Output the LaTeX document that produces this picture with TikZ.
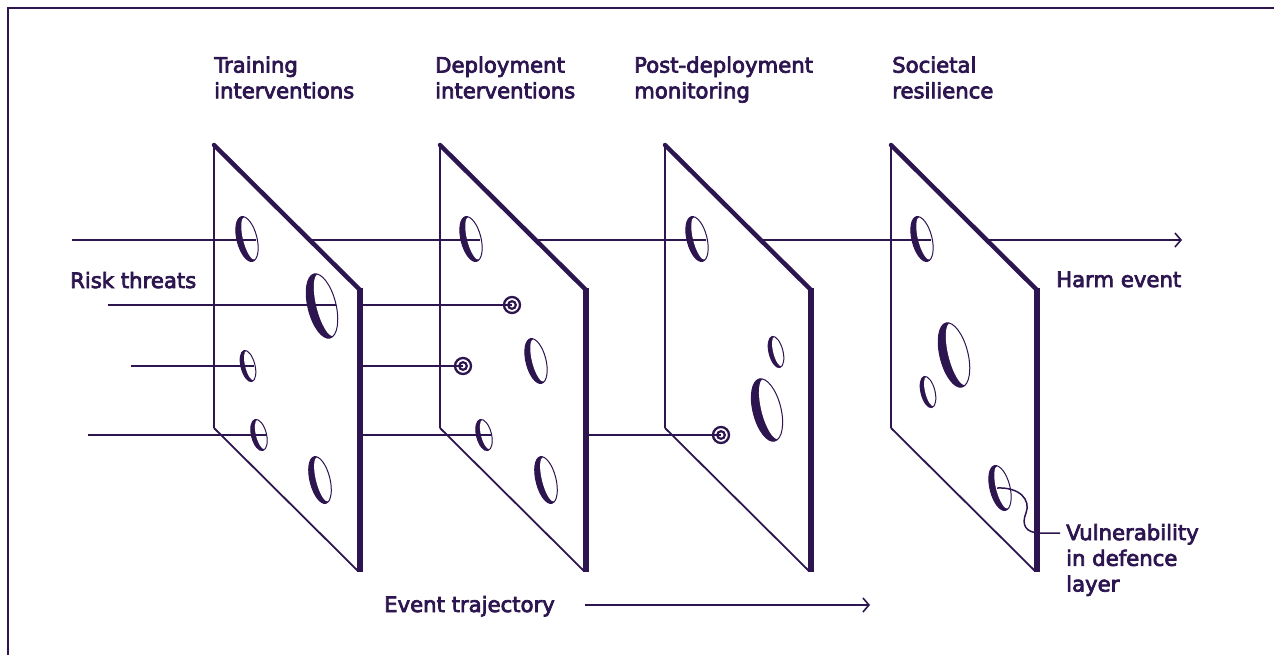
\documentclass[tikz,border=0pt]{standalone}
\usepackage{fontspec}
\setmainfont{DejaVu Sans}
\newfontfamily\lblfont{DejaVu Sans}[FakeBold=3.5]
\usetikzlibrary{arrows.meta}
\definecolor{ink}{HTML}{2D1650}
\newcommand\plateat[1]{%
  \begin{scope}[shift={(#1,0)}]
    \fill[white] (0,145) -- (146,290) -- (146,572) -- (0,428) -- cycle;
    \draw[ink,line width=2] (0,428) -- (0,145);
    \draw[ink,line width=4.5,line cap=round] (0,145) -- (146,290);
    \draw[ink,line width=5.5] (146,288) -- (146,572);
    \draw[ink,line width=1.8] (0,428) -- (144,571);
  \end{scope}}
\newcommand\holeat[4]{% x y rx ry
  \begin{scope}[shift={(#1,#2)},rotate=14]
    \pgfmathsetmacro\hs{0.3*#3}
    \fill[ink] (0,0) ellipse ({#3} and {#4});
    \fill[white] (\hs,0) ellipse ({#3-\hs} and {#4-0.8});
    \draw[ink,line width=1] (0,0) ellipse ({#3} and {#4});
  \end{scope}}
\newcommand\ringat[2]{%
  \draw[ink,line width=2.3] (#1,#2) circle (8);
  \draw[ink,line width=2.2] (#1,#2) circle (3.8);}
\begin{document}
\begin{tikzpicture}[x=1pt,y=-1pt,
  lbl/.style={font=\lblfont\fontsize{21.2}{25.7}\selectfont, text=ink, inner sep=0pt, anchor=base west, align=left},
  ray/.style={ink, line width=2},
  arr/.style={ray, -{Straight Barb[length=6pt,width=14pt,line width=1.6pt]}},
  lead/.style={ink, line width=1.5}]
\useasboundingbox (0,0) rectangle (1274,654);
% frame
\draw[ink,line width=2] (8,660) -- (8,8) -- (1280,8);

% titles (base anchor = baseline of last line)
\node[lbl] (t1) at (214,98.3) {Training\\interventions};
\node[lbl] (t2) at (435,98.3) {Deployment\\interventions};
\node[lbl] (t3) at (634,98.3) {Post-deployment\\monitoring};
\node[lbl] (t4) at (892,98.3) {Societal\\resilience};
\node[lbl] (risk) at (70,288) {Risk threats};
\node[lbl] (harm) at (1056,287) {Harm event};
\node[lbl] (vul) at (1066,591.5) {Vulnerability\\in defence\\layer};
\node[lbl] (traj) at (384,612) {Event trajectory};

% ray start points
\coordinate (a0) at (72,240);
\coordinate (b0) at (108,305);
\coordinate (c0) at (131,366);
\coordinate (d0) at (88,435);

% plate 1
\plateat{214}
\holeat{247}{239}{10}{23}
\holeat{322}{306}{14}{33}
\holeat{248}{366}{7}{16}
\holeat{259}{435}{7.5}{16}
\holeat{320}{480}{10}{24}
\coordinate (a1) at (256,240);
\coordinate (b1) at (336,305);
\coordinate (c1) at (254,366);
\coordinate (d1) at (266,435);
\draw[ray] (a0) -- (a1);
\draw[ray] (b0) -- (b1);
\draw[ray] (c0) -- (c1);
\draw[ray] (d0) -- (d1);
\coordinate (a1x) at (309,240);
\coordinate (b1x) at (360,305);
\coordinate (c1x) at (360,366);
\coordinate (d1x) at (360,435);

% plate 2
\plateat{440}
\holeat{471}{239}{10}{23}
\ringat{512}{305}
\ringat{463}{366}
\holeat{536}{361}{10}{23}
\holeat{484}{435}{7.5}{16}
\holeat{546}{480}{10}{24}
\coordinate (a2) at (480,240);
\coordinate (b2) at (512,305);
\coordinate (c2) at (463,366);
\coordinate (d2) at (491,435);
\draw[ray] (a1x) -- (a2);
\draw[ray] (b1x) -- (b2);
\draw[ray] (c1x) -- (c2);
\draw[ray] (d1x) -- (d2);
\coordinate (a2x) at (535,240);
\coordinate (d2x) at (586,435);

% plate 3
\plateat{665}
\holeat{697}{239}{10}{23}
\holeat{776}{352}{7}{16}
\holeat{767}{410}{14}{32}
\ringat{721}{435}
\coordinate (a3) at (706,240);
\coordinate (d3) at (721,435);
\draw[ray] (a2x) -- (a3);
\draw[ray] (d2x) -- (d3);
\coordinate (a3x) at (760,240);

% plate 4
\plateat{891}
\holeat{922}{239}{10}{23}
\holeat{954}{355}{14}{33}
\holeat{928}{392}{7}{16}
\holeat{1000}{488}{10}{23}
\coordinate (a4) at (931,240);
\draw[ray] (a3x) -- (a4);
\coordinate (a4x) at (986,240);
\coordinate (a5) at (1182,240);
\draw[arr] (a4x) -- (a5);

% vulnerability leader
\coordinate (vh) at (997,488);
\coordinate (vend) at (1060,533);
\draw[lead] (vh) .. controls (1020,487) and (1031,500) .. (1026,513)
  .. controls (1021,525) and (1026,533) .. (1040,533) -- (vend);

% event trajectory arrow
\coordinate (e0) at (585,605);
\coordinate (e1) at (870,605);
\draw[arr] (e0) -- (e1);
\end{tikzpicture}
\end{document}
